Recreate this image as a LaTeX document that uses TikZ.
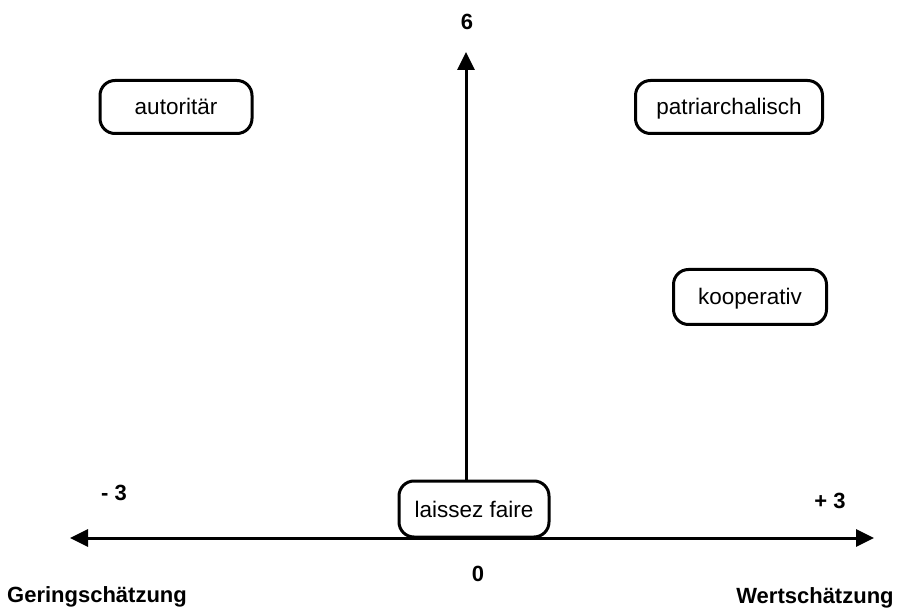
\documentclass[tikz,border=0pt]{standalone}
\usepackage{fontspec}
\setmainfont{Liberation Sans}
\usetikzlibrary{arrows.meta}
\begin{document}
\begin{tikzpicture}[x=1pt,y=-1pt,
  stylebox/.style={draw,line width=3pt,rounded corners=15pt,fill=white,
    minimum height=53pt,text height=16pt,text depth=0pt,
    font=\fontsize{22.5}{26}\selectfont},
  axis/.style={line width=3pt,-{Triangle[length=18pt,width=17pt]}},
  axlabel/.style={font=\bfseries\fontsize{22}{26}\selectfont}]
  \useasboundingbox (0,0) rectangle (910,609);
  % axes
  \coordinate (xl) at (70,538);
  \coordinate (xr) at (874,538);
  \coordinate (yt) at (466,52);
  \draw[axis] (466,538) -- (xl);
  \draw[axis] (466,538) -- (xr);
  % leadership style boxes
  \node[stylebox,minimum width=150pt,minimum height=56pt] (laissez) at (474,509) {laissez faire};
  \node[stylebox,minimum width=152pt] (autoritaer) at (176,107) {autoritär};
  \node[stylebox,minimum width=187pt] (patriarch) at (729,107) {patriarchalisch};
  \node[stylebox,minimum width=153pt,minimum height=55pt] (koop) at (750,297) {kooperativ};
  \draw[axis] (laissez.north -| yt) -- (yt);
  % scale labels
  \node[axlabel] (six) at (467,22) {6};
  \node[axlabel] (zero) at (478,574) {0};
  \node[axlabel] (minus) at (114,493) {- 3};
  \node[axlabel] (plus) at (830,501) {+ 3};
  \node[axlabel] (gering) at (97,597) {Geringschätzung};
  \node[axlabel] (wert) at (815,598) {Wertschätzung};
\end{tikzpicture}
\end{document}
